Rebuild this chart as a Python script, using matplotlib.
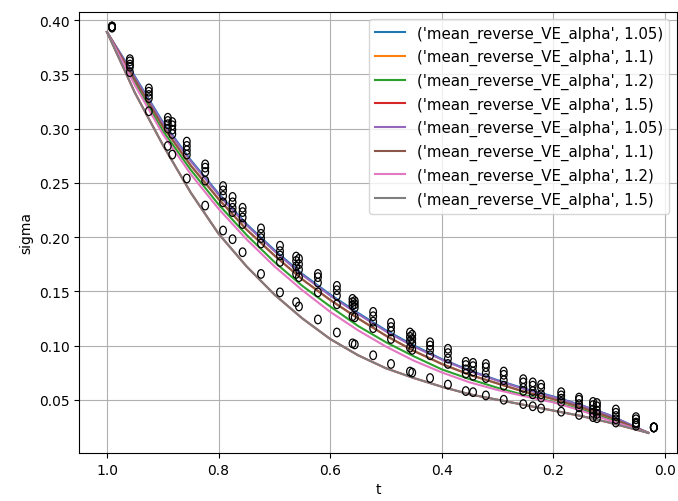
import matplotlib
matplotlib.use("Agg")
import matplotlib.pyplot as plt
from matplotlib.path import Path
from matplotlib.transforms import Affine2D

# -----------------------------
# 1. Data
# -----------------------------

# model curves (sigma vs t), one per alpha
t_line = [1.0, 0.95, 0.9, 0.85, 0.8, 0.75, 0.7, 0.65, 0.6, 0.55,
          0.5, 0.45, 0.4, 0.35, 0.3, 0.25, 0.2, 0.15, 0.1, 0.03]

sig_105 = [0.389, 0.348, 0.306, 0.271, 0.240, 0.212, 0.188, 0.166, 0.147, 0.130,
           0.114, 0.100, 0.0875, 0.077, 0.068, 0.060, 0.053, 0.045, 0.036, 0.0195]
sig_105b = [0.389, 0.347, 0.305, 0.270, 0.239, 0.211, 0.187, 0.165, 0.146, 0.129,
            0.113, 0.099, 0.087, 0.0765, 0.0675, 0.0595, 0.0525, 0.0447, 0.0357, 0.0195]
sig_11 = [0.389, 0.345, 0.302, 0.266, 0.235, 0.207, 0.183, 0.161, 0.142, 0.125,
          0.109, 0.095, 0.083, 0.073, 0.065, 0.057, 0.0506, 0.043, 0.034, 0.0195]
sig_12 = [0.389, 0.342, 0.298, 0.262, 0.230, 0.202, 0.177, 0.155, 0.136, 0.118,
          0.103, 0.090, 0.078, 0.069, 0.061, 0.054, 0.048, 0.041, 0.032, 0.0195]
sig_12b = [0.389, 0.340, 0.295, 0.258, 0.226, 0.198, 0.173, 0.151, 0.131, 0.114,
           0.099, 0.086, 0.0752, 0.066, 0.059, 0.053, 0.0476, 0.040, 0.031, 0.0195]
sig_15 = [0.389, 0.333, 0.285, 0.241, 0.203, 0.173, 0.147, 0.125, 0.106, 0.091,
          0.079, 0.070, 0.062, 0.055, 0.050, 0.045, 0.040, 0.035, 0.029, 0.0195]

alphas = [1.05, 1.1, 1.2, 1.5, 1.05, 1.1, 1.2, 1.5]
curves = [sig_105, sig_11, sig_12, sig_15, sig_105b, sig_11, sig_12b, sig_15]

# observed points: t and five sigma values per column
t_obs = [0.991, 0.959, 0.925, 0.891, 0.883, 0.857, 0.824, 0.792, 0.775, 0.757,
         0.724, 0.690, 0.661, 0.656, 0.622, 0.588, 0.560, 0.556, 0.523, 0.491,
         0.457, 0.453, 0.421, 0.389, 0.357, 0.344, 0.321, 0.289, 0.254, 0.237,
         0.222, 0.186, 0.154, 0.129, 0.122, 0.088, 0.052, 0.020]
obs_1 = [0.394, 0.364, 0.337, 0.310, 0.306, 0.288, 0.267, 0.247, 0.237, 0.227,
         0.208, 0.192, 0.182, 0.180, 0.166, 0.155, 0.143, 0.141, 0.131, 0.121,
         0.112, 0.110, 0.103, 0.097, 0.085, 0.084, 0.083, 0.076, 0.069, 0.066,
         0.064, 0.057, 0.052, 0.048, 0.047, 0.041, 0.034, 0.0245]
obs_2 = [0.394, 0.362, 0.334, 0.307, 0.303, 0.284, 0.264, 0.243, 0.232, 0.223,
         0.203, 0.187, 0.178, 0.175, 0.163, 0.151, 0.140, 0.138, 0.127, 0.117,
         0.108, 0.106, 0.100, 0.093, 0.082, 0.081, 0.080, 0.073, 0.066, 0.063,
         0.061, 0.054, 0.050, 0.045, 0.044, 0.038, 0.032, 0.0245]
obs_3 = [0.394, 0.359, 0.331, 0.304, 0.299, 0.280, 0.260, 0.238, 0.227, 0.218,
         0.199, 0.183, 0.173, 0.170, 0.158, 0.146, 0.137, 0.135, 0.122, 0.113,
         0.104, 0.102, 0.096, 0.088, 0.078, 0.076, 0.075, 0.068, 0.061, 0.058,
         0.055, 0.051, 0.046, 0.041, 0.040, 0.035, 0.029, 0.0245]
obs_4 = [0.394, 0.357, 0.328, 0.300, 0.295, 0.276, 0.252, 0.232, 0.223, 0.212,
         0.194, 0.177, 0.166, 0.163, 0.149, 0.138, 0.127, 0.126, 0.116, 0.106,
         0.098, 0.096, 0.091, 0.083, 0.074, 0.072, 0.070, 0.063, 0.058, 0.055,
         0.052, 0.048, 0.043, 0.038, 0.037, 0.032, 0.026, 0.0245]
obs_5 = [0.393, 0.352, 0.316, 0.284, 0.276, 0.254, 0.229, 0.206, 0.198, 0.186,
         0.166, 0.149, 0.140, 0.136, 0.124, 0.112, 0.102, 0.101, 0.091, 0.083,
         0.076, 0.075, 0.070, 0.064, 0.058, 0.057, 0.054, 0.050, 0.046, 0.044,
         0.042, 0.039, 0.036, 0.034, 0.033, 0.029, 0.028, 0.0245]

# -----------------------------
# 2. Plot
# -----------------------------

# slightly tall open oval, like the "o" marks in the original
oval = Path.unit_circle().transformed(Affine2D().scale(0.78, 1.0))

fig = plt.figure(figsize=(6.78, 5.02), dpi=100)
ax = fig.add_axes([0.117, 0.0956, 0.8815, 0.879])

for i, (a, s) in enumerate(zip(alphas, curves)):
    ax.plot(t_line, s, color=f"C{i}", label=str(("mean_reverse_VE_alpha", a)))

for obs in [obs_1, obs_2, obs_3, obs_4, obs_5]:
    ax.scatter(t_obs, obs, marker=oval, s=38, facecolors="none",
               edgecolors="black", linewidths=0.9, zorder=3)

ax.set_xlim(1.0496, -0.0215)
ax.set_ylim(0.0009, 0.4077)
ax.set_xticks([1.0, 0.8, 0.6, 0.4, 0.2, 0.0])
ax.set_yticks([0.05, 0.10, 0.15, 0.20, 0.25, 0.30, 0.35, 0.40])
ax.set_xlabel("t")
ax.set_ylabel("sigma")
ax.grid(True)
ax.legend(loc="upper right", fontsize=10.85)

fig.savefig("out.png", dpi=100)
